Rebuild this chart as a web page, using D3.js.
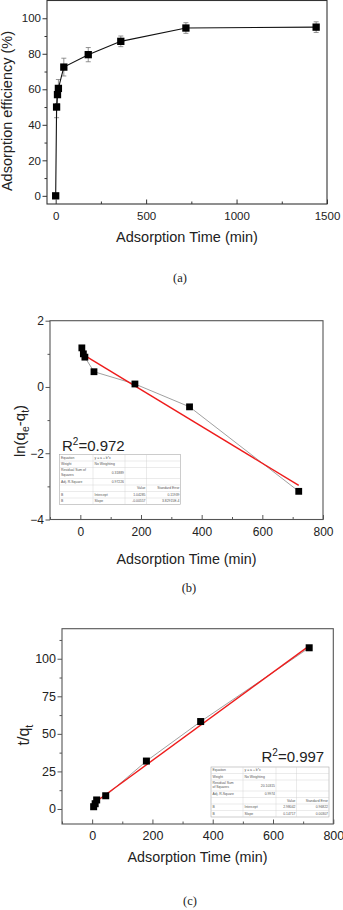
<!DOCTYPE html>
<html>
<head>
<meta charset="utf-8">
<script src="https://cdn.jsdelivr.net/npm/d3@7"></script>
<style>
  html, body { margin: 0; padding: 0; background: #fff; }
  svg { display: block; font-family: "Liberation Sans", Arial, sans-serif; }
</style>
</head>
<body>
<svg id="chart" width="343" height="910"></svg>
<script>
// ---------- Data ----------
// (a) adsorption efficiency vs time
const aTime = [0, 5, 10, 15, 45, 180, 360, 720, 1440];
const aEff  = [0, 50, 57, 60.5, 72.5, 79.5, 87, 94.5, 95];
const aErr  = [0, 6, 5, 5, 5, 4, 3, 3, 3];
const aXTicks = [0, 500, 1000, 1500];
const aXMinor = [250, 750, 1250];
const aYTicks = [0, 20, 40, 60, 80, 100];
const aYMinor = [10, 30, 50, 70, 90];

// (b) pseudo-first-order
const bTime = [5, 10, 15, 45, 180, 360, 720];
const bLn   = [1.18, 1.0, 0.9, 0.46, 0.09, -0.6, -3.15];
const bFitX = [0, 720];
const bFitY = [1.03, -2.97];
const bXTicks = [0, 200, 400, 600, 800];
const bXMinor = [-100, 100, 300, 500, 700];
const bYTicks = [-4, -2, 0, 2];
const bYMinor = [-3, -1, 1];
const bR2 = "0.972";
const bTable = [
  ["Equation", "y = a + b*x", "", ""],
  ["Weight", "No Weighting", "", ""],
  ["Residual Sum of|Squares", "0.31889", "", ""],
  ["Adj. R-Square", "0.97226", "", ""],
  ["", "", "Value", "Standard Error"],
  ["B", "Intercept", "1.04285", "0.11939"],
  ["B", "Slope", "-0.00557", "3.82915E-4"]
];

// (c) pseudo-second-order
const cTime = [5, 10, 15, 45, 180, 360, 720];
const cTq   = [1.5, 3.5, 6, 8.8, 31.9, 58.2, 107.3];
const cFitX = [0, 720];
const cFitY = [3.0, 108.6];
const cXTicks = [0, 200, 400, 600, 800];
const cXMinor = [-100, 100, 300, 500, 700];
const cYTicks = [0, 25, 50, 75, 100];
const cYMinor = [12.5, 37.5, 62.5, 87.5, 112.5];
const cR2 = "0.997";
const cTable = [
  ["Equation", "y = a + b*x", "", ""],
  ["Weight", "No Weighting", "", ""],
  ["Residual Sum|of Squares", "20.10315", "", ""],
  ["Adj. R-Square", "0.9974", "", ""],
  ["", "", "Value", "Standard Error"],
  ["B", "Intercept", "2.98042", "0.96822"],
  ["B", "Slope", "0.14717", "0.00307"]
];

// ---------- Drawing ----------
const svg = d3.select("#chart");
svg.append("rect").attr("width", 343).attr("height", 910).attr("fill", "#fff");

function frameAndAxes(g, x, y, o) {
  const [x0, x1] = x.range();
  const [y0, y1] = y.range(); // y0 bottom, y1 top
  const fs = o.tickFont;
  // minor ticks
  g.append("g").attr("transform", `translate(0,${y0})`)
    .call(d3.axisBottom(x).tickValues(o.xMinor).tickSize(-2.5).tickFormat(""))
    .call(s => s.select(".domain").remove())
    .selectAll("line").attr("stroke", o.frameColor);
  g.append("g").attr("transform", `translate(${x0},0)`)
    .call(d3.axisLeft(y).tickValues(o.yMinor).tickSize(2.5).tickFormat(""))
    .call(s => s.select(".domain").remove())
    .selectAll("line").attr("stroke", o.frameColor);
  // major x
  const gx = g.append("g").attr("transform", `translate(0,${y0})`)
    .call(d3.axisBottom(x).tickValues(o.xTicks).tickSize(-4.5)
      .tickPadding(o.xLabelBase - 0.71 * fs).tickFormat(d3.format("d")));
  gx.select(".domain").remove();
  gx.selectAll("line").attr("stroke", o.frameColor);
  gx.selectAll("text").attr("font-size", fs).attr("fill", "#222")
    .attr("font-family", "Liberation Sans, Arial, sans-serif");
  // major y
  const gy = g.append("g").attr("transform", `translate(${x0},0)`)
    .call(d3.axisLeft(y).tickValues(o.yTicks).tickSize(4.5).tickPadding(1.5).tickFormat(d3.format("d")));
  gy.select(".domain").remove();
  gy.selectAll("line").attr("stroke", o.frameColor);
  gy.selectAll("text").attr("font-size", fs).attr("fill", "#222")
    .attr("font-family", "Liberation Sans, Arial, sans-serif");
  // frame
  g.append("rect").attr("x", x0).attr("y", y1).attr("width", x1 - x0).attr("height", y0 - y1)
    .attr("fill", "none").attr("stroke", o.frameColor).attr("stroke-width", o.frameWidth);
}

function squares(g, data, x, y, size) {
  g.selectAll(null).data(data).enter().append("rect")
    .attr("x", d => x(d[0]) - size / 2).attr("y", d => y(d[1]) - size / 2)
    .attr("width", size).attr("height", size).attr("fill", "#000");
}

function drawTable(g, rows, left, top, cols, rowH) {
  const width = cols[cols.length - 1] - left;
  let yy = top;
  const tg = g.append("g");
  const totalH = d3.sum(rowH);
  tg.append("rect").attr("x", left).attr("y", top).attr("width", width).attr("height", totalH)
    .attr("fill", "#fff").attr("stroke", "#aaa").attr("stroke-width", 0.6);
  const xs = [left].concat(cols);
  rows.forEach((r, i) => {
    const h = rowH[i];
    if (i > 0) tg.append("line").attr("x1", left).attr("x2", left + width).attr("y1", yy).attr("y2", yy)
      .attr("stroke", "#ccc").attr("stroke-width", 0.4);
    r.forEach((cell, j) => {
      if (!cell) return;
      const lines = cell.split("|");
      const rightAlign = (i >= 2 && j >= 1 && !(i >= 5 && j === 1)) || (i === 4);
      lines.forEach((ln, k) => {
        const t = tg.append("text").attr("font-size", 3.4).attr("fill", "#555")
          .attr("y", yy + (lines.length === 1 ? h / 2 + 1.2 : 3.8 + k * 4.2))
          .text(ln);
        if (rightAlign) t.attr("x", xs[j + 1] - 1).attr("text-anchor", "end");
        else t.attr("x", xs[j] + 1.5);
      });
    });
    yy += h;
  });
  cols.slice(0, -1).forEach(cx => {
    tg.append("line").attr("x1", cx).attr("x2", cx).attr("y1", top).attr("y2", top + totalH)
      .attr("stroke", "#ccc").attr("stroke-width", 0.4);
  });
}

// ----- Panel (a) -----
{
  const g = svg.append("g");
  const x = d3.scaleLinear().domain([-48, 1500]).range([47, 327]);
  const y = d3.scaleLinear().domain([-4.6, 110]).range([204, 0.5]);
  frameAndAxes(g, x, y, { xTicks: aXTicks, xMinor: aXMinor, yTicks: aYTicks, yMinor: aYMinor,
    tickFont: 11.5, xLabelBase: 15.5, frameColor: "#333", frameWidth: 1.1 });
  const pts = aTime.map((t, i) => [t, aEff[i], aErr[i]]);
  // error bars
  const eb = g.append("g").attr("stroke", "#777").attr("stroke-width", 0.8);
  pts.filter(d => d[2] > 0).forEach(d => {
    const cx = x(d[0]);
    eb.append("line").attr("x1", cx).attr("x2", cx).attr("y1", y(d[1] - d[2])).attr("y2", y(d[1] + d[2]));
    [d[1] - d[2], d[1] + d[2]].forEach(v => eb.append("line").attr("x1", cx - 2.5).attr("x2", cx + 2.5)
      .attr("y1", y(v)).attr("y2", y(v)));
  });
  g.append("path").datum(pts).attr("fill", "none").attr("stroke", "#111").attr("stroke-width", 1.1)
    .attr("d", d3.line().x(d => x(d[0])).y(d => y(d[1])));
  squares(g, pts, x, y, 7.3);
  g.append("text").attr("x", 187).attr("y", 242).attr("text-anchor", "middle").attr("font-size", 14.5)
    .attr("fill", "#222").text("Adsorption Time (min)");
  g.append("text").attr("transform", "translate(12,111) rotate(-90)").attr("text-anchor", "middle")
    .attr("font-size", 14.5).attr("fill", "#222").text("Adsorption efficiency (%)");
  g.append("text").attr("x", 180).attr("y", 282).attr("text-anchor", "middle").attr("font-size", 12.5)
    .attr("font-family", "Liberation Serif, Times New Roman, serif").attr("fill", "#222").text("(a)");
}

// ----- Panel (b) -----
{
  const g = svg.append("g");
  const x = d3.scaleLinear().domain([-100, 800]).range([50, 323]);
  const y = d3.scaleLinear().domain([-4, 2]).range([519.5, 320.7]);
  frameAndAxes(g, x, y, { xTicks: bXTicks, xMinor: bXMinor, yTicks: bYTicks, yMinor: bYMinor,
    tickFont: 12, xLabelBase: 16.5, frameColor: "#555", frameWidth: 1.1 });
  const pts = bTime.map((t, i) => [t, bLn[i]]);
  g.append("path").datum(pts).attr("fill", "none").attr("stroke", "#888").attr("stroke-width", 0.8)
    .attr("d", d3.line().x(d => x(d[0])).y(d => y(d[1])));
  const fit = bFitX.map((t, i) => [t, bFitY[i]]);
  g.append("path").datum(fit).attr("fill", "none").attr("stroke", "#ee1c1c").attr("stroke-width", 1.4)
    .attr("d", d3.line().x(d => x(d[0])).y(d => y(d[1])));
  squares(g, pts, x, y, 6.8);
  const r = g.append("text").attr("x", 62).attr("y", 450.5).attr("font-size", 15).attr("fill", "#222");
  r.append("tspan").text("R");
  r.append("tspan").attr("font-size", 10).attr("dy", -6).text("2");
  r.append("tspan").attr("dy", 6).text("=" + bR2);
  drawTable(g, bTable, 59.5, 454.5, [93, 125, 146.5, 180.5], [6.5, 6.5, 11, 6.5, 6.5, 6.5, 6.5]);
  g.append("text").attr("x", 186.5).attr("y", 563.5).attr("text-anchor", "middle").attr("font-size", 14.3)
    .attr("fill", "#222").text("Adsorption Time (min)");
  const yl = g.append("text").attr("transform", "translate(25,431) rotate(-90)").attr("text-anchor", "middle")
    .attr("font-size", 15).attr("fill", "#222");
  yl.append("tspan").text("ln(q");
  yl.append("tspan").attr("font-size", 10.5).attr("dy", 3.5).text("e");
  yl.append("tspan").attr("dy", -3.5).text("-q");
  yl.append("tspan").attr("font-size", 10.5).attr("dy", 3.5).text("t");
  yl.append("tspan").attr("dy", -3.5).text(")");
  g.append("text").attr("x", 189).attr("y", 592).attr("text-anchor", "middle").attr("font-size", 12.5)
    .attr("font-family", "Liberation Serif, Times New Roman, serif").attr("fill", "#222").text("(b)");
}

// ----- Panel (c) -----
{
  const g = svg.append("g");
  const x = d3.scaleLinear().domain([-100, 800]).range([62, 333.3]);
  const y = d3.scaleLinear().domain([-10, 120]).range([824, 628.7]);
  frameAndAxes(g, x, y, { xTicks: cXTicks, xMinor: cXMinor, yTicks: cYTicks, yMinor: cYMinor,
    tickFont: 12.5, xLabelBase: 15.5, frameColor: "#555", frameWidth: 1.1 });
  const pts = cTime.map((t, i) => [t, cTq[i]]);
  g.append("path").datum(pts).attr("fill", "none").attr("stroke", "#888").attr("stroke-width", 0.8)
    .attr("d", d3.line().x(d => x(d[0])).y(d => y(d[1])));
  const fit = cFitX.map((t, i) => [t, cFitY[i]]);
  g.append("path").datum(fit).attr("fill", "none").attr("stroke", "#ee1c1c").attr("stroke-width", 1.4)
    .attr("d", d3.line().x(d => x(d[0])).y(d => y(d[1])));
  squares(g, pts, x, y, 7);
  const r = g.append("text").attr("x", 261.5).attr("y", 762).attr("font-size", 15).attr("fill", "#222");
  r.append("tspan").text("R");
  r.append("tspan").attr("font-size", 10).attr("dy", -6).text("2");
  r.append("tspan").attr("dy", 6).text("=" + cR2);
  drawTable(g, cTable, 211, 767, [243, 276, 296.5, 329], [6.5, 6.5, 11, 6.5, 6.5, 6.5, 6.5]);
  g.append("text").attr("x", 197.5).attr("y", 862).attr("text-anchor", "middle").attr("font-size", 14.3)
    .attr("fill", "#222").text("Adsorption Time (min)");
  const yl = g.append("text").attr("transform", "translate(29,735) rotate(-90)").attr("text-anchor", "middle")
    .attr("font-size", 16).attr("fill", "#222");
  yl.append("tspan").text("t/q");
  yl.append("tspan").attr("font-size", 11).attr("dy", 3.5).text("t");
  g.append("text").attr("x", 190).attr("y", 905).attr("text-anchor", "middle").attr("font-size", 12.5)
    .attr("font-family", "Liberation Serif, Times New Roman, serif").attr("fill", "#222").text("(c)");
}
</script>
</body>
</html>
